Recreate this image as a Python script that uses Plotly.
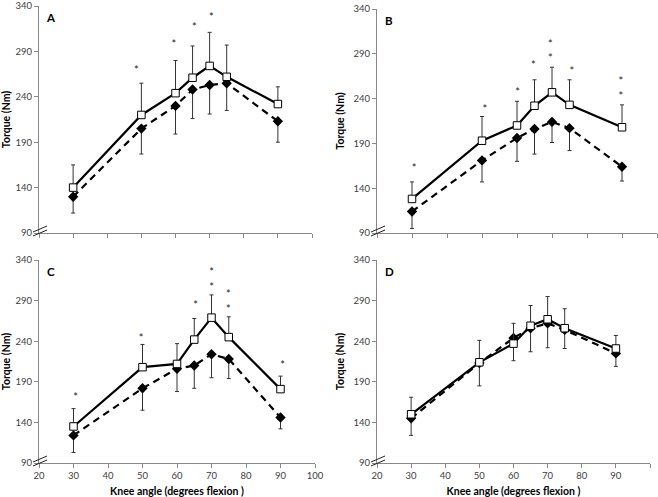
import plotly.graph_objects as go

W, H = 658, 497

# ---------------- data ----------------
angles = [30, 50, 60, 65, 70, 75, 90]
x_ticks = [20, 30, 40, 50, 60, 70, 80, 90, 100]
y_ticks = [90, 140, 190, 240, 290, 340]

a_open = [140, 220, 244, 261, 274, 262, 232]
a_open_sd = [25, 35, 36, 35, 37, 35, 19]
a_fill = [130, 205, 230, 248, 253, 255, 213]
a_fill_sd = [18, 28, 31, 32, 32, 30, 23]

b_open = [128, 193, 210, 232, 247, 233, 208]
b_open_sd = [19, 27, 27, 29, 28, 28, 25]
b_fill = [114, 171, 196, 206, 214, 207, 164]
b_fill_sd = [19, 24, 26, 28, 23, 25, 16]

c_open = [135, 208, 212, 242, 269, 245, 181]
c_open_sd = [22, 28, 25, 26, 28, 25, 16]
c_fill = [124, 182, 206, 210, 224, 218, 146]
c_fill_sd = [21, 27, 28, 28, 29, 24, 14]

d_open = [150, 214, 237, 259, 267, 256, 231]
d_open_sd = [21, 27, 25, 25, 28, 24, 16]
d_fill = [145, 213, 244, 256, 262, 254, 225]
d_fill_sd = [21, 28, 28, 29, 30, 23, 16]

# significance asterisks (x, y of the top asterisk, label)
a_star_x = [48.5, 59.5, 65.5, 70.5]
a_star_y = [274, 303, 322, 333]
a_star_t = ["*", "*", "*", "*"]
b_star_x = [30.6, 50.8, 60.2, 64.7, 69.5, 75.7, 89.7]
b_star_y = [167, 233, 252, 282, 306, 276, 264]
b_star_t = ["*", "*", "*", "*", "*<br>*", "*", "*<br>*"]
c_star_x = [30.6, 49.6, 65.4, 70.0, 74.9, 90.6]
c_star_y = [176, 249, 290, 330, 303, 216]
c_star_t = ["*", "*", "*", "*<br>*", "*<br>*", "*"]
d_star_x = []
d_star_y = []
d_star_t = []

panel_labels = ["A", "B", "C", "D"]
y_title = "Torque (Nm)"
x_title = "Knee angle (degrees flexion )"

# ---------------- layout geometry (pixels) ----------------
# (left, right, top, bottom) of each plot area
boxes = [
    (39, 312, 6, 233),
    (377, 657, 9, 233),
    (39, 315, 260, 463),
    (377, 650, 260, 463),
]

panels = [
    (a_open, a_open_sd, a_fill, a_fill_sd, a_star_x, a_star_y, a_star_t),
    (b_open, b_open_sd, b_fill, b_fill_sd, b_star_x, b_star_y, b_star_t),
    (c_open, c_open_sd, c_fill, c_fill_sd, c_star_x, c_star_y, c_star_t),
    (d_open, d_open_sd, d_fill, d_fill_sd, d_star_x, d_star_y, d_star_t),
]

AXIS_COL = "#888888"
TXT_COL = "#404040"
FONT = "Lato, 'Open Sans', sans-serif"

fig = go.Figure()
layout = dict(
    width=W, height=H,
    margin=dict(l=0, r=0, t=0, b=0),
    paper_bgcolor="white", plot_bgcolor="white",
    showlegend=False, template="none",
    font=dict(family=FONT, color=TXT_COL, size=9),
)
shapes = []
annotations = []

for i, (box, data) in enumerate(zip(boxes, panels)):
    n = i + 1
    sfx = "" if n == 1 else str(n)
    xref, yref = "x" + sfx, "y" + sfx
    l, r, t, b = box
    xdom = [l / W, r / W]
    ydom = [1 - b / H, 1 - t / H]
    op, op_sd, fi, fi_sd, sx, sy, st = data
    zeros = [0] * len(angles)

    # dashed series with filled diamonds (lower error bars)
    fig.add_trace(go.Scatter(
        x=angles, y=fi, xaxis=xref, yaxis=yref, mode="lines+markers",
        line=dict(color="black", width=2.2, dash="7px,5px"),
        marker=dict(symbol="diamond", size=8, color="black"),
        error_y=dict(type="data", symmetric=False, array=zeros, arrayminus=fi_sd,
                     color="#333333", thickness=1, width=2),
        hoverinfo="skip", cliponaxis=False,
    ))
    # solid series with open squares (upper error bars)
    fig.add_trace(go.Scatter(
        x=angles, y=op, xaxis=xref, yaxis=yref, mode="lines+markers",
        line=dict(color="black", width=2.2),
        marker=dict(symbol="square", size=7.5, color="white",
                    line=dict(color="black", width=1)),
        error_y=dict(type="data", symmetric=False, array=op_sd, arrayminus=zeros,
                     color="#333333", thickness=1, width=2),
        hoverinfo="skip", cliponaxis=False,
    ))
    if sx:
        fig.add_trace(go.Scatter(
            x=sx, y=sy, xaxis=xref, yaxis=yref, mode="text",
            text=st, textposition="bottom center",
            textfont=dict(size=11, color="#222222", family=FONT),
            hoverinfo="skip", cliponaxis=False,
        ))

    show_x_labels = n >= 3
    layout["xaxis" + sfx] = dict(
        domain=xdom, range=[20, 100], tickvals=x_ticks,
        showticklabels=show_x_labels, ticks="outside", ticklen=4,
        tickcolor=AXIS_COL, showline=True, linecolor=AXIS_COL, linewidth=1,
        showgrid=False, zeroline=False, automargin=False, anchor=yref,
        tickfont=dict(size=9.5, color=TXT_COL),
        title=dict(text=x_title if show_x_labels else "", standoff=8,
                   font=dict(size=10.5, color="black", weight="bold")),
    )
    layout["yaxis" + sfx] = dict(
        domain=ydom, range=[90, 340], tickvals=y_ticks,
        ticks="outside", ticklen=4, tickcolor=AXIS_COL,
        showline=True, linecolor=AXIS_COL, linewidth=1,
        showgrid=False, zeroline=False, automargin=False, anchor=xref,
        tickfont=dict(size=9.5, color=TXT_COL),
        title=dict(text=y_title, standoff=6,
                   font=dict(size=10.5, color="black", weight="bold")),
    )

    # axis break marks "//" near the origin
    x0p, y0p = l, b
    for (dx0, dy0, dx1, dy1) in [(-6, 3, 8, -3), (-6, -1, 8, -7)]:
        shapes.append(dict(
            type="line", xref="paper", yref="paper",
            x0=(x0p + dx0) / W, y0=1 - (y0p + dy0) / H,
            x1=(x0p + dx1) / W, y1=1 - (y0p + dy1) / H,
            line=dict(color="#222222", width=1),
        ))

    # panel letter
    annotations.append(dict(
        text=panel_labels[i], xref="paper", yref="paper",
        x=(l + 12) / W, y=1 - (t + 11) / H, xanchor="center", yanchor="middle",
        showarrow=False, font=dict(size=11.5, color="black", family=FONT, weight="bold"),
    ))

layout["shapes"] = shapes
layout["annotations"] = annotations
fig.update_layout(**layout)
fig.write_html(
    "out.html",
    config={"displayModeBar": False, "staticPlot": True},
    post_script="document.body.style.margin='0px';document.body.style.overflow='hidden';",
)
